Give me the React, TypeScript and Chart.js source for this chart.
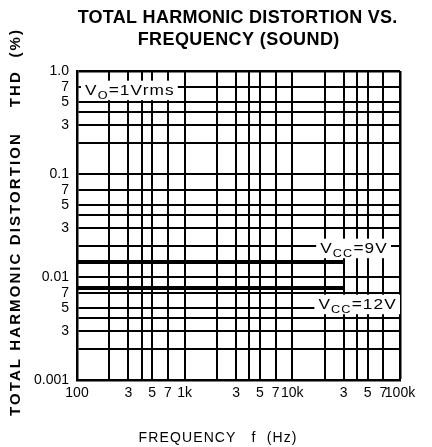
import { useEffect, useRef } from 'react';
import { Chart, registerables } from 'chart.js';

Chart.register(...registerables);

const FONT = '"Liberation Sans", Arial, Helvetica, sans-serif';

// Data
const frequencies = [100, 30000];
const thdVcc9 = [0.014, 0.014];
const thdVcc12 = [0.0078, 0.0078];

const xGridValues = [100, 200, 300, 400, 500, 700, 1000, 2000, 3000, 4000, 5000, 7000, 10000, 20000, 30000, 40000, 50000, 70000, 100000];
const xLabelValues = [100, 300, 500, 700, 1000, 3000, 5000, 7000, 10000, 30000, 50000, 70000, 100000];
const xLabelTexts = ['100', '3', '5', '7', '1k', '3', '5', '7', '10k', '3', '5', '7', '100k'];

const yGridValues = [0.001, 0.002, 0.003, 0.004, 0.005, 0.007, 0.01, 0.02, 0.03, 0.04, 0.05, 0.07, 0.1, 0.2, 0.3, 0.4, 0.5, 0.7, 1];
const yLabelValues = [0.001, 0.003, 0.005, 0.007, 0.01, 0.03, 0.05, 0.07, 0.1, 0.3, 0.5, 0.7, 1];
const yLabelTexts = ['0.001', '3', '5', '7', '0.01', '3', '5', '7', '0.1', '3', '5', '7', '1.0'];

const titleLines = ['TOTAL HARMONIC DISTORTION VS.', 'FREQUENCY (SOUND)'];
const xTitle = 'FREQUENCY   f  (Hz)';
const yTitle = 'TOTAL HARMONIC DISTORTION    THD  (%)';

function lookup(v: number, vals: number[], texts: string[]) {
  for (let i = 0; i < vals.length; i++) {
    if (Math.abs(v - vals[i]) / vals[i] < 1e-6) return texts[i];
  }
  return '';
}

type Part = { t: string; sub?: boolean };

function drawRich(ctx: CanvasRenderingContext2D, parts: Part[], x: number, yc: number, align: 'left' | 'right', size: number, stretch: number, spacing: number) {
  const subSize = Math.round(size * 0.72);
  ctx.save();
  ctx.letterSpacing = spacing + 'px';
  let w = 0;
  const widths = parts.map((p) => {
    ctx.font = `${p.sub ? subSize : size}px ${FONT}`;
    const mw = ctx.measureText(p.t).width;
    w += mw;
    return mw;
  });
  const totalW = w * stretch;
  const left = align === 'left' ? x : x - totalW;
  ctx.fillStyle = '#fff';
  ctx.fillRect(left - 4, yc - size * 0.62, totalW + 7, size * 1.3);
  ctx.fillStyle = '#000';
  ctx.textBaseline = 'alphabetic';
  ctx.textAlign = 'left';
  const base = yc + size * 0.36;
  ctx.translate(left, 0);
  ctx.scale(stretch, 1);
  let cx = 0;
  parts.forEach((p, i) => {
    ctx.font = `${p.sub ? subSize : size}px ${FONT}`;
    ctx.fillText(p.t, cx, p.sub ? base + size * 0.25 : base);
    cx += widths[i];
  });
  ctx.restore();
}

function spacedText(ctx: CanvasRenderingContext2D, text: string, x: number, y: number, targetWidth: number) {
  ctx.letterSpacing = '0px';
  const w0 = ctx.measureText(text).width;
  const ls = Math.max(0, (targetWidth - w0) / text.length);
  ctx.letterSpacing = ls + 'px';
  ctx.fillText(text, x + ls / 2, y);
}

const textPlugin = {
  id: 'textPlugin',
  afterDatasetsDraw(chart: any) {
    const ctx: CanvasRenderingContext2D = chart.ctx;
    const area = chart.chartArea;
    const y = chart.scales.y;
    drawRich(ctx, [{ t: 'V' }, { t: 'O', sub: true }, { t: '=1Vrms' }], area.left + 8, y.getPixelForValue(0.7) + 3, 'left', 15, 1.15, 1);
    drawRich(ctx, [{ t: 'V' }, { t: 'CC', sub: true }, { t: '=9V' }], area.right - 12, y.getPixelForValue(0.02) + 2, 'right', 15, 1.15, 1);
    drawRich(ctx, [{ t: 'V' }, { t: 'CC', sub: true }, { t: '=12V' }], area.right - 3, y.getPixelForValue(0.005) - 4, 'right', 15, 1.15, 1);
  },
  afterDraw(chart: any) {
    const ctx: CanvasRenderingContext2D = chart.ctx;
    const area = chart.chartArea;
    const cxArea = (area.left + area.right) / 2;
    ctx.save();
    ctx.fillStyle = '#000';
    ctx.textAlign = 'center';
    ctx.textBaseline = 'alphabetic';
    ctx.font = `bold 18px ${FONT}`;
    spacedText(ctx, titleLines[0], cxArea - 1, 22.5, 320);
    spacedText(ctx, titleLines[1], cxArea, 45, 202);
    ctx.font = `14px ${FONT}`;
    spacedText(ctx, xTitle, 217.5, 441.5, 159);
    ctx.restore();

    ctx.save();
    ctx.fillStyle = '#000';
    ctx.textAlign = 'center';
    ctx.textBaseline = 'alphabetic';
    ctx.font = `bold 15px ${FONT}`;
    ctx.translate(20.4, 223);
    ctx.rotate(-Math.PI / 2);
    spacedText(ctx, yTitle, 0, 0, 388);
    ctx.restore();
  },
};

export default function App() {
  const ref = useRef<HTMLCanvasElement | null>(null);
  useEffect(() => {
    document.body.style.margin = '0';
    const canvas = ref.current;
    if (!canvas) return;
    const chart = new Chart(canvas, {
      type: 'line',
      data: {
        datasets: [
          {
            label: 'VCC=9V',
            data: frequencies.map((f, i) => ({ x: f, y: thdVcc9[i] })),
            borderColor: '#000',
            borderWidth: 4,
            pointRadius: 0,
            borderCapStyle: 'butt',
          },
          {
            label: 'VCC=12V',
            data: frequencies.map((f, i) => ({ x: f, y: thdVcc12[i] })),
            borderColor: '#000',
            borderWidth: 4,
            pointRadius: 0,
            borderCapStyle: 'butt',
          },
        ],
      },
      options: {
        animation: false,
        responsive: false,
        devicePixelRatio: 1,
        layout: { padding: { top: 71, right: 32, left: 0, bottom: 0 } },
        plugins: { legend: { display: false }, title: { display: false }, tooltip: { enabled: false } },
        scales: {
          x: {
            type: 'logarithmic',
            min: 100,
            max: 100000,
            afterBuildTicks: (s: any) => {
              s.ticks = xGridValues.map((v) => ({ value: v }));
            },
            afterFit: (s: any) => {
              s.height = 67;
            },
            grid: {
              color: '#000',
              lineWidth: (c: any) => (c.tick && c.tick.value === 100000 ? 2.5 : 2),
              drawTicks: false,
            },
            border: { display: true, color: '#000', width: 2.5 },
            ticks: {
              autoSkip: false,
              maxRotation: 0,
              minRotation: 0,
              padding: 5,
              color: '#000',
              font: { family: FONT, size: 14 },
              callback: (v: any) => lookup(Number(v), xLabelValues, xLabelTexts),
            },
          },
          y: {
            type: 'logarithmic',
            min: 0.001,
            max: 1,
            afterBuildTicks: (s: any) => {
              s.ticks = yGridValues.map((v) => ({ value: v }));
            },
            afterFit: (s: any) => {
              s.width = 77;
            },
            grid: {
              color: '#000',
              lineWidth: (c: any) => (c.tick && c.tick.value === 1 ? 2.5 : 2),
              drawTicks: false,
            },
            border: { display: true, color: '#000', width: 2.5 },
            ticks: {
              autoSkip: false,
              padding: 8,
              color: '#000',
              font: { family: FONT, size: 14 },
              callback: (v: any) => lookup(Number(v), yLabelValues, yLabelTexts),
            },
          },
        },
      },
      plugins: [textPlugin],
    } as any);
    return () => chart.destroy();
  }, []);
  return <canvas ref={ref} width={432} height={447} style={{ display: 'block' }} />;
}
